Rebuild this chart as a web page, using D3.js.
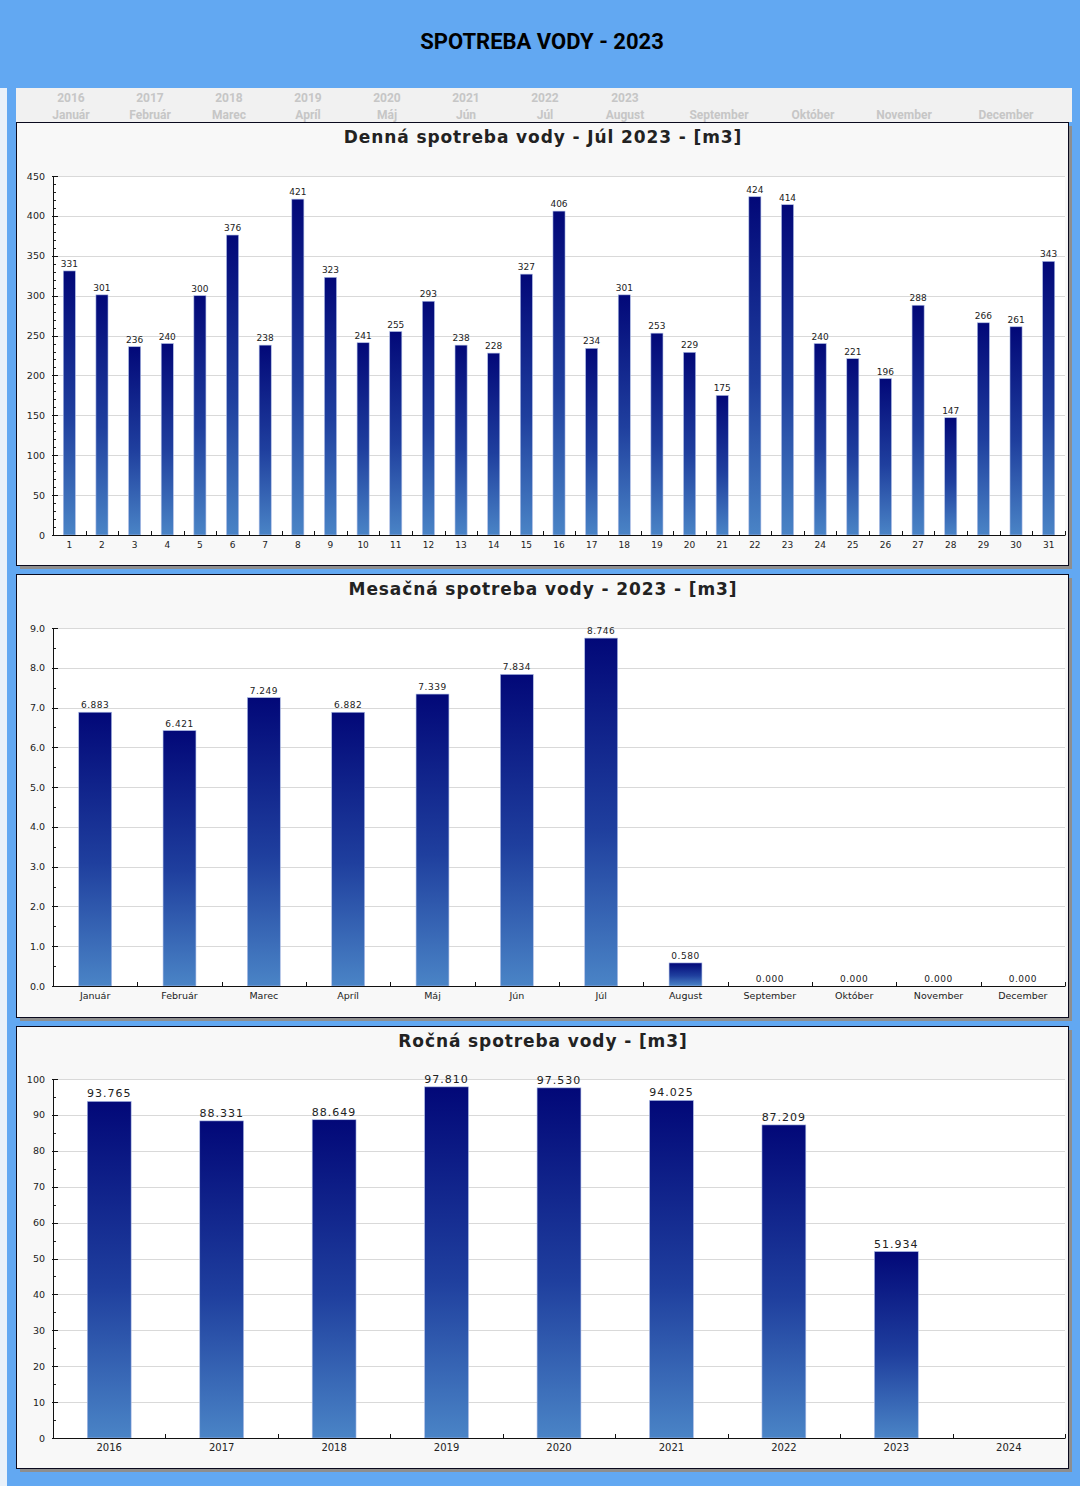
<!DOCTYPE html>
<html><head><meta charset="utf-8">
<script src="https://cdn.jsdelivr.net/npm/d3@7/dist/d3.min.js"></script>
<style>
html,body{margin:0;padding:0;background:#62a8f2;}
svg{display:block;}
</style></head>
<body>
<svg id="chart" width="1080" height="1486"></svg>
<script>
// ---------- DATA ----------
const pageTitle = "SPOTREBA VODY - 2023";
const navYears = ["2016","2017","2018","2019","2020","2021","2022","2023","","","",""];
const navMonths = ["Január","Február","Marec","Apríl","Máj","Jún","Júl","August","September","Október","November","December"];

const dailyTitle = "Denná spotreba vody - Júl 2023 - [m3]";
const dayLabels = ["1","2","3","4","5","6","7","8","9","10","11","12","13","14","15","16","17","18","19","20","21","22","23","24","25","26","27","28","29","30","31"];
const dailyValues = [331,301,236,240,300,376,238,421,323,241,255,293,238,228,327,406,234,301,253,229,175,424,414,240,221,196,288,147,266,261,343];
const dailyTicks = [0,50,100,150,200,250,300,350,400,450];

const monthlyTitle = "Mesačná spotreba vody - 2023 - [m3]";
const monthLabels = ["Január","Február","Marec","Apríl","Máj","Jún","Júl","August","September","Október","November","December"];
const monthlyValues = [6.883,6.421,7.249,6.882,7.339,7.834,8.746,0.580,0,0,0,0];
const monthlyTicks = [0,1,2,3,4,5,6,7,8,9];

const yearlyTitle = "Ročná spotreba vody - [m3]";
const yearLabels = ["2016","2017","2018","2019","2020","2021","2022","2023","2024"];
const yearlyValues = [93.765,88.331,88.649,97.810,97.530,94.025,87.209,51.934,null];
const yearlyTicks = [0,10,20,30,40,50,60,70,80,90,100];

// ---------- LAYOUT ----------
const navX = [71,150,229,308,387,466,545,625,719,813,904,1006];
const panels = [
  {title:dailyTitle, cats:dayLabels, vals:dailyValues, ticks:dailyTicks, minorStep:10,
   top:122, bottom:565, plotTop:176, plotBottom:535, tickFmt:d3.format("d"), valFmt:d3.format("d"),
   valSize:9, valSpacing:0, xSize:9, barRatio:0.37},
  {title:monthlyTitle, cats:monthLabels, vals:monthlyValues, ticks:monthlyTicks, minorStep:0.5,
   top:574, bottom:1017, plotTop:628, plotBottom:986, tickFmt:d3.format(".1f"), valFmt:d3.format(".3f"),
   valSize:9, valSpacing:0.5, xSize:9.5, barRatio:0.39},
  {title:yearlyTitle, cats:yearLabels, vals:yearlyValues, ticks:yearlyTicks, minorStep:5,
   top:1026, bottom:1468, plotTop:1079, plotBottom:1438, tickFmt:d3.format("d"), valFmt:d3.format(".3f"),
   valSize:11, valSpacing:1, xSize:10, barRatio:0.39}
];
const panelLeft = 16, panelRight = 1068, plotLeft = 53, plotRight = 1065;
const FONT = "'DejaVu Sans', Verdana, sans-serif";

const svg = d3.select("#chart");
const defs = svg.append("defs");
const grad = defs.append("linearGradient").attr("id","barGrad")
  .attr("x1",0).attr("y1",0).attr("x2",0).attr("y2",1);
grad.append("stop").attr("offset","0%").attr("stop-color","#020878");
grad.append("stop").attr("offset","55%").attr("stop-color","#1f3f9e");
grad.append("stop").attr("offset","100%").attr("stop-color","#4a84c6");

// background
svg.append("rect").attr("x",0).attr("y",0).attr("width",1080).attr("height",1486).attr("fill","#62a8f2");
svg.append("rect").attr("x",0).attr("y",88).attr("width",7).attr("height",1398).attr("fill","#e9f1fa");

// header title
svg.append("text").attr("x",542).attr("y",49).attr("text-anchor","middle")
  .attr("font-family","Roboto, sans-serif").attr("font-weight","bold").attr("font-size",22)
  .attr("fill","#000").text(pageTitle);

// nav bar
svg.append("rect").attr("x",16).attr("y",88).attr("width",1056).attr("height",34).attr("fill","#f1f1f1");
const nav = svg.append("g").attr("font-family","Roboto, sans-serif").attr("font-weight","bold")
  .attr("font-size",12).attr("fill","#c6c6c6").attr("text-anchor","middle");
navMonths.forEach((m,i)=>{
  if(navYears[i]) nav.append("text").attr("x",navX[i]).attr("y",101.5).text(navYears[i]);
  nav.append("text").attr("x",navX[i]).attr("y",118.5).text(m);
});

panels.forEach((p,pi)=>{
  const g = svg.append("g");
  // shadow
  g.append("rect").attr("x",panelLeft+4).attr("y",p.top+4)
    .attr("width",panelRight-panelLeft).attr("height",p.bottom-p.top).attr("fill","#8e8e8e");
  // panel
  g.append("rect").attr("x",panelLeft+0.5).attr("y",p.top+0.5)
    .attr("width",panelRight-panelLeft).attr("height",p.bottom-p.top)
    .attr("fill","#f8f8f8").attr("stroke","#0a0a1e").attr("stroke-width",1);
  // title
  g.append("text").attr("x",543).attr("y",p.top+21).attr("text-anchor","middle")
    .attr("font-family",FONT).attr("font-weight","bold").attr("font-size",17)
    .attr("letter-spacing",0.9).attr("fill","#222").text(p.title);

  const maxV = p.ticks[p.ticks.length-1];
  const y = d3.scaleLinear().domain([0,maxV]).range([p.plotBottom,p.plotTop]);
  const x = d3.scaleBand().domain(p.cats).range([plotLeft,plotRight]).padding(0);

  // plot bg
  g.append("rect").attr("x",plotLeft).attr("y",p.plotTop).attr("width",plotRight-plotLeft)
    .attr("height",p.plotBottom-p.plotTop).attr("fill","#fff");
  // grid
  g.selectAll(".grid").data(p.ticks.filter(t=>t>0)).join("line")
    .attr("x1",plotLeft).attr("x2",plotRight)
    .attr("y1",d=>Math.round(y(d))+0.5).attr("y2",d=>Math.round(y(d))+0.5)
    .attr("stroke","#d9d9d9").attr("stroke-width",1);

  // bars
  const bw = x.bandwidth()*p.barRatio;
  const data = p.cats.map((c,i)=>({c, v:p.vals[i]})).filter(d=>d.v!==null);
  g.selectAll(".bar").data(data.filter(d=>d.v>0)).join("rect")
    .attr("x",d=>x(d.c)+x.bandwidth()/2-bw/2)
    .attr("y",d=>y(d.v))
    .attr("width",bw)
    .attr("height",d=>y(0)-y(d.v))
    .attr("fill","url(#barGrad)")
    .attr("stroke","#aebde6").attr("stroke-width",0.6);
  // value labels
  g.selectAll(".val").data(data).join("text")
    .attr("x",d=>x(d.c)+x.bandwidth()/2)
    .attr("y",d=>y(d.v)-4)
    .attr("text-anchor","middle").attr("font-family",FONT).attr("font-size",p.valSize)
    .attr("letter-spacing",p.valSpacing).attr("fill","#222")
    .text(d=>p.valFmt(d.v));

  // y axis
  const yMinor = d3.range(0, maxV+1e-9, p.minorStep);
  g.selectAll(".ymin").data(yMinor).join("line")
    .attr("x1",plotLeft).attr("x2",plotLeft+3)
    .attr("y1",d=>Math.round(y(d))+0.5).attr("y2",d=>Math.round(y(d))+0.5)
    .attr("stroke","#222").attr("stroke-width",1);
  g.selectAll(".ymaj").data(p.ticks).join("line")
    .attr("x1",plotLeft-1).attr("x2",plotLeft+5)
    .attr("y1",d=>Math.round(y(d))+0.5).attr("y2",d=>Math.round(y(d))+0.5)
    .attr("stroke","#111").attr("stroke-width",1);
  g.selectAll(".ylab").data(p.ticks).join("text")
    .attr("x",plotLeft-8).attr("y",d=>y(d)+3.5)
    .attr("text-anchor","end").attr("font-family",FONT).attr("font-size",9.5).attr("fill","#222")
    .text(d=>p.tickFmt(d));
  g.append("line").attr("x1",plotLeft+0.5).attr("x2",plotLeft+0.5)
    .attr("y1",p.plotTop).attr("y2",p.plotBottom+0.5).attr("stroke","#111");

  // x axis
  g.append("line").attr("x1",plotLeft).attr("x2",plotRight+0.5)
    .attr("y1",p.plotBottom+0.5).attr("y2",p.plotBottom+0.5).attr("stroke","#111");
  const bounds = p.cats.map(c=>x(c)).concat([x(p.cats[p.cats.length-1])+x.bandwidth()]).slice(1);
  g.selectAll(".xt").data(bounds).join("line")
    .attr("x1",d=>Math.round(d)+0.5).attr("x2",d=>Math.round(d)+0.5)
    .attr("y1",p.plotBottom-4).attr("y2",p.plotBottom)
    .attr("stroke","#111");
  g.selectAll(".xlab").data(p.cats).join("text")
    .attr("x",d=>x(d)+x.bandwidth()/2).attr("y",p.plotBottom+13)
    .attr("text-anchor","middle").attr("font-family",FONT).attr("font-size",p.xSize).attr("fill","#222")
    .text(d=>d);
});
</script>
</body></html>
